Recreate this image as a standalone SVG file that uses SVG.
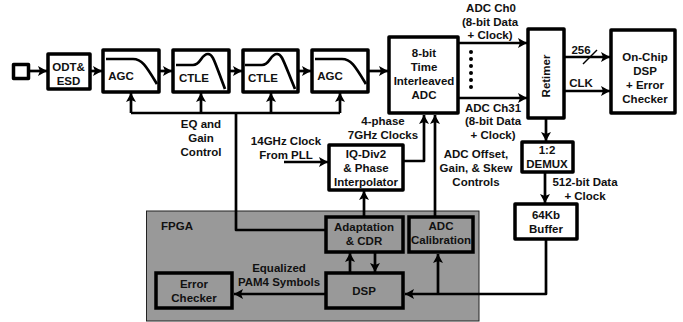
<svg xmlns="http://www.w3.org/2000/svg" width="683" height="322" viewBox="0 0 683 322">
<style>
.b{fill:#fff;stroke:#000;stroke-width:3.5;stroke-linejoin:round}
.g{fill:#999;stroke:#000;stroke-width:3.5}
.c{fill:none;stroke:#000;stroke-width:2.7;stroke-linejoin:round}
.s{fill:none;stroke:#000;stroke-width:1.5}
.t{font:bold 11.5px "Liberation Sans",Arial,sans-serif;fill:#111;text-anchor:middle}
.a{marker-end:url(#h)}
</style>
<defs>
<marker id="h" markerUnits="userSpaceOnUse" markerWidth="11" markerHeight="11" refX="9" refY="5" orient="auto"><path d="M0,0L9,5L0,10L2,5Z" fill="#000"/></marker>
</defs>
<rect width="683" height="322" fill="#fff"/>
<g id="fpga"><rect x="146.500" y="211" width="332.500" height="110" fill="#999" stroke="#222" stroke-width="1"/><text class="t" x="177" y="230">FPGA</text></g>
<g id="connectors">
<path class="c a" d="M28,71H47"/><path class="c a" d="M90,71H102"/><path class="c a" d="M159,71H172"/><path class="c a" d="M229,71H242"/><path class="c a" d="M298,71H311"/><path class="c a" d="M368,71H388"/>
<path class="c" d="M131,113H340"/>
<path class="c a" d="M131,113V93"/><path class="c a" d="M201,113V93"/><path class="c a" d="M271,113V93"/><path class="c a" d="M340,113V93"/>
<path class="c" d="M236,113V230H326"/>
<path class="c a" d="M458,43H527"/><path class="c a" d="M458,98H527"/>
<path class="c a" d="M564,57H610"/><path class="c a" d="M564,91H610"/>
<path class="s" d="M583,64L597,50"/>
<path class="c a" d="M546,118V141"/><path class="c a" d="M545,172V203"/>
<path class="c a" d="M284,162H328"/>
<path class="c a" d="M403,161H424V115"/><path class="c a" d="M435,217V115"/>
<path class="c a" d="M364,217V191"/>
<path class="c a" d="M350,273V253"/><path class="c a" d="M375,252V272"/>
<path class="c a" d="M326,294H234"/>
<path class="c a" d="M546,239V294H405"/><path class="c a" d="M438,294V254"/>
<g fill="#000"><circle cx="471" cy="52" r="2"/><circle cx="471" cy="59" r="2"/><circle cx="471" cy="66" r="2"/><circle cx="471" cy="73" r="2"/><circle cx="471" cy="80" r="2"/><circle cx="471" cy="87" r="2"/></g>
</g>
<g id="input"><rect class="b" x="13.500" y="64.500" width="15" height="14"/></g>
<g id="odt"><rect class="b" x="48" y="54" width="42" height="35"/><text class="t" x="68.500" y="71">ODT&amp;</text><text class="t" x="68.500" y="85">ESD</text></g>
<g id="agc1"><rect class="b" x="103" y="50" width="56" height="42"/><path class="c" d="M106,59H133C142,59 146,66 157,84"/><text class="t" x="121" y="80">AGC</text></g>
<g id="ctle1"><rect class="b" x="173" y="50" width="56" height="42"/><path class="c" d="M176,65H193C201,65 201,54 208,54C213,54 214,60 225,89"/><text class="t" x="194" y="82">CTLE</text></g>
<g id="ctle2"><rect class="b" x="243" y="50" width="55" height="42"/><path class="c" d="M245,65H262C270,65 270,54 277,54C282,54 283,60 295,89"/><text class="t" x="263" y="82">CTLE</text></g>
<g id="agc2"><rect class="b" x="312" y="50" width="56" height="42"/><path class="c" d="M315,59H342C351,59 355,66 366,84"/><text class="t" x="330" y="80">AGC</text></g>
<g id="adc"><rect class="b" x="389" y="37" width="69" height="76"/><text class="t" x="424" y="57">8-bit</text><text class="t" x="424" y="71">Time</text><text class="t" x="424" y="85">Interleaved</text><text class="t" x="424" y="99">ADC</text></g>
<g id="retimer"><rect class="b" x="528" y="29" width="36" height="89"/><text class="t" transform="translate(550,76) rotate(-90)">Retimer</text></g>
<g id="dsp-chip"><rect class="b" x="611" y="30" width="64" height="83"/><text class="t" x="645" y="61">On-Chip</text><text class="t" x="645" y="75">DSP</text><text class="t" x="645" y="89">+ Error</text><text class="t" x="645" y="103">Checker</text></g>
<g id="demux"><rect class="b" x="522" y="142" width="51" height="30"/><text class="t" x="547" y="154">1:2</text><text class="t" x="547" y="168">DEMUX</text></g>
<g id="buffer"><rect class="b" x="515" y="204" width="62" height="35"/><text class="t" x="546" y="219">64Kb</text><text class="t" x="546" y="233">Buffer</text></g>
<g id="iq"><rect class="b" x="329" y="145" width="74" height="45"/><text class="t" x="366" y="158">IQ-Div2</text><text class="t" x="366" y="172">&amp; Phase</text><text class="t" x="366" y="186">Interpolator</text></g>
<g id="adaptation"><rect class="g" x="326" y="217" width="77" height="35"/><text class="t" x="364" y="231">Adaptation</text><text class="t" x="364" y="245">&amp; CDR</text></g>
<g id="calibration"><rect class="g" x="409" y="217" width="64" height="35"/><text class="t" x="441" y="230">ADC</text><text class="t" x="441" y="244">Calibration</text></g>
<g id="dsp"><rect class="g" x="326" y="273" width="77" height="35"/><text class="t" x="364" y="295">DSP</text></g>
<g id="error"><rect class="g" x="156" y="273" width="76" height="35"/><text class="t" x="194" y="288">Error</text><text class="t" x="194" y="302">Checker</text></g>
<g id="labels">
<text class="t" x="201" y="128">EQ and</text><text class="t" x="201" y="142">Gain</text><text class="t" x="201" y="156">Control</text>
<text class="t" x="286" y="145">14GHz Clock</text><text class="t" x="286" y="159">From PLL</text>
<text class="t" x="383" y="125">4-phase</text><text class="t" x="383" y="139">7GHz Clocks</text>
<text class="t" x="491" y="12">ADC Ch0</text><text class="t" x="490" y="26">(8-bit Data</text><text class="t" x="490" y="39">+ Clock)</text>
<text class="t" x="493" y="112">ADC Ch31</text><text class="t" x="493" y="125">(8-bit Data</text><text class="t" x="493" y="139">+ Clock)</text>
<text class="t" x="581" y="54">256</text><text class="t" x="581" y="87">CLK</text>
<text class="t" x="476" y="158">ADC Offset,</text><text class="t" x="476" y="172">Gain, &amp; Skew</text><text class="t" x="476" y="186">Controls</text>
<text class="t" x="585" y="186">512-bit Data</text><text class="t" x="585" y="200">+ Clock</text>
<text class="t" x="279" y="272">Equalized</text><text class="t" x="279" y="286">PAM4 Symbols</text>
</g>
</svg>
